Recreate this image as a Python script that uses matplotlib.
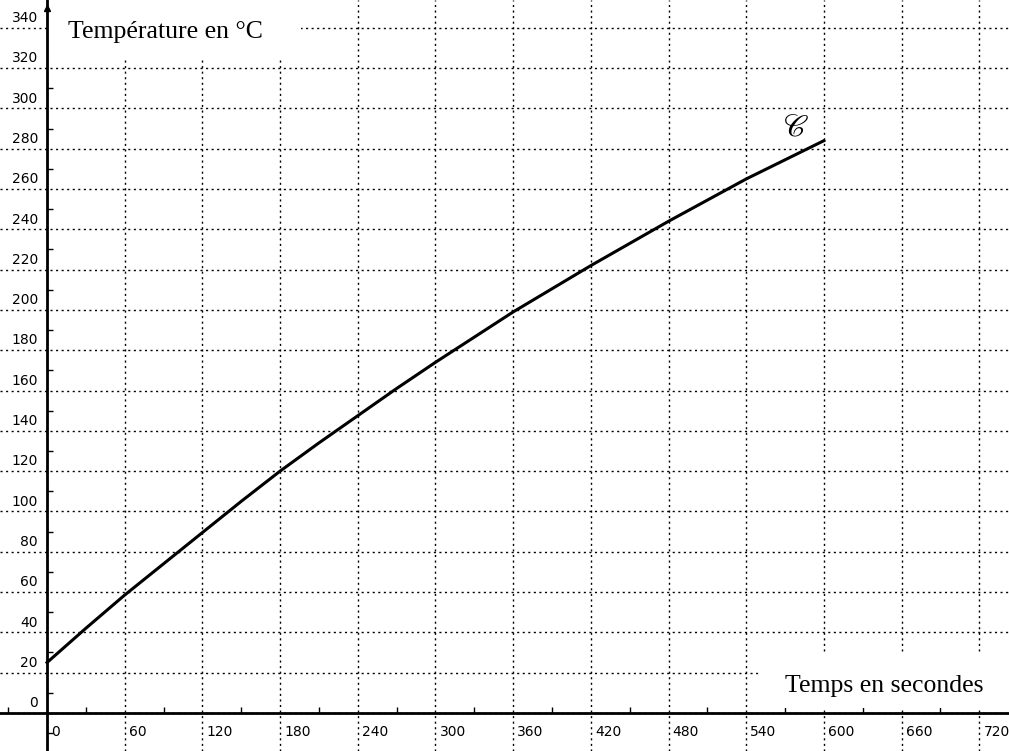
import matplotlib
matplotlib.use('Agg')
import matplotlib.pyplot as plt
from matplotlib.ticker import MultipleLocator
from matplotlib.transforms import ScaledTranslation
from matplotlib.patches import Rectangle

temps = [0, 30, 60, 90, 120, 150, 180, 210, 240, 270, 300,
         330, 360, 390, 420, 450, 480, 510, 540, 570, 600]
temperature = [25, 42, 58.5, 74, 89.5, 105, 120, 134, 147.5, 161, 174,
               186.5, 199, 210.5, 222, 233, 244, 254.5, 265, 274.5, 284]

x_ticks = list(range(0, 721, 60))
y_ticks = list(range(0, 341, 20))

plt.rcParams['font.family'] = ['DejaVu Sans']
plt.rcParams['mathtext.fontset'] = 'stix'

fig = plt.figure(figsize=(10.09, 7.51), dpi=100)
ax = fig.add_axes([0, 0, 1, 1])
ax.set_xlim(-36.3, 742.9)
ax.set_ylim(-18.9, 353.8)

# axes through the origin
for side in ['top', 'right']:
    ax.spines[side].set_visible(False)
ax.spines['left'].set_position(('data', 0))
ax.spines['bottom'].set_position(('data', 0))
ax.spines['left'].set_linewidth(2)
ax.spines['bottom'].set_linewidth(2)
ax.spines['left'].set_zorder(6)
ax.spines['bottom'].set_zorder(6)
ax.plot(0, 0.99, '^k', ms=5, transform=ax.get_xaxis_transform(), clip_on=False, zorder=6)

ax.set_xticks(x_ticks)
ax.set_yticks(y_ticks)
ax.xaxis.set_minor_locator(MultipleLocator(30))
ax.yaxis.set_minor_locator(MultipleLocator(10))
ax.tick_params(which='major', length=0, labelsize=10)
ax.tick_params(axis='x', which='major', pad=9)
ax.tick_params(axis='y', which='major', pad=6.5)
ax.tick_params(which='minor', direction='in', length=4, width=1)

for lab in ax.get_xticklabels():
    lab.set_ha('left')
    lab.set_transform(lab.get_transform() + ScaledTranslation(3 / 72, 0, fig.dpi_scale_trans))
for lab in ax.get_yticklabels():
    lab.set_va('bottom')
    lab.set_transform(lab.get_transform() + ScaledTranslation(0, 2 / 72, fig.dpi_scale_trans))

ax.grid(True, which='major', color='black', linestyle=(0, (1.5, 2.5)), linewidth=1)
ax.set_axisbelow(True)

ax.plot(temps, temperature, color='black', linewidth=2.2, zorder=4)

# white areas behind the axis titles
ax.add_patch(Rectangle((0.048, 0.923), 0.25, 0.077, transform=ax.transAxes,
                       facecolor='white', edgecolor='none', zorder=2))
ax.add_patch(Rectangle((0.753, 0.057), 0.247, 0.075, transform=ax.transAxes,
                       facecolor='white', edgecolor='none', zorder=2))

ax.text(0.067, 0.95, 'Température en °C', transform=ax.transAxes,
        family='Liberation Serif', fontsize=18.5, ha='left', va='baseline', zorder=5)
ax.text(0.778, 0.079, 'Temps en secondes', transform=ax.transAxes,
        family='Liberation Serif', fontsize=18.5, ha='left', va='baseline', zorder=5)

ax.annotate(r'$\mathscr{C}$', xy=(temps[-1], temperature[-1]), xytext=(-20, 10),
            textcoords='offset points', fontsize=22, ha='center', va='center')

fig.savefig('out.png', dpi=100)
